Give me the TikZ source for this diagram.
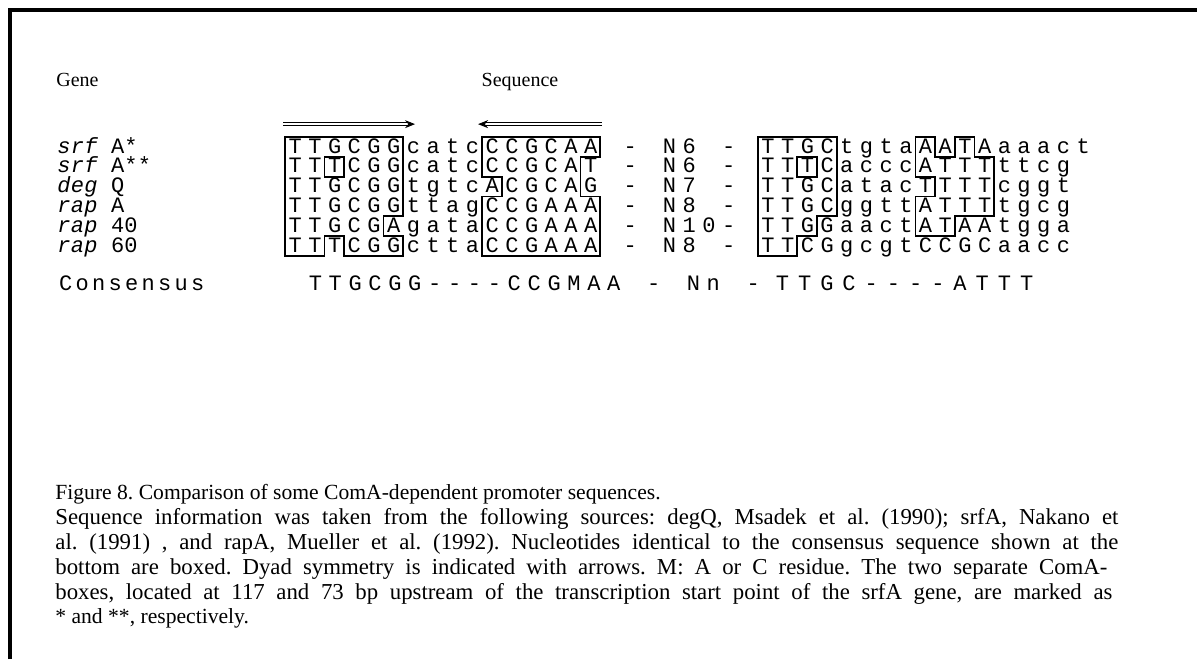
\documentclass[tikz,border=0pt]{standalone}
\usepackage{fontspec}
\setmainfont{Liberation Serif}
\newfontfamily\monofont{Liberation Mono}
\usetikzlibrary{arrows.meta}

% one fixed cell for every letter, so that the boxes fit the columns
\newlength\cellw
\newcommand\cells[1]{\cellsloop#1\relax}
\def\cellsloop#1{\ifx#1\relax\else\makebox[\cellw]{#1}\expandafter\cellsloop\fi}
\newcommand\genename[2]{{\itshape\cells{#1}}\cells{~#2}}
\frenchspacing

\begin{document}
\begin{tikzpicture}[x=0.5pt, y=-0.5pt,
    seq/.style={anchor=base west, inner sep=0pt,
      font={\monofont\fontsize{11}{13}\selectfont\setlength\cellw{9.85pt}}},
    lbl/.style={anchor=base west, inner sep=0pt,
      font={\monofont\fontsize{11}{13}\selectfont\setlength\cellw{6.7pt}}},
    cons/.style={anchor=base west, inner sep=0pt,
      font={\monofont\fontsize{11}{13}\selectfont\setlength\cellw{8.25pt}}},
    head/.style={inner sep=0pt, font=\fontsize{10}{12}\selectfont},
    caption/.style={anchor=base west, inner sep=0pt, font=\fontsize{10.8}{13}\selectfont},
    wide/.style={caption, font=\fontsize{11.4}{13}\selectfont},
    motif/.style={line width=0.9pt, line join=miter},
    dyad/.style={double, double distance=1.2pt, line width=0.45pt}]
  \useasboundingbox (0,0) rectangle (1197,659);
  % frame, left and top only
  \draw[line width=2pt] (10,659) -- (10,10) -- (1197,10);

  \node[head, anchor=base west] (gene) at (56,86) {Gene};
  \node[head, anchor=base] (sequence) at (520,86) {Sequence};

  % gene names
  \node[lbl] (n1) at (57,153)   {\genename{srf}{A*}};
  \node[lbl] (n2) at (57,172.8) {\genename{srf}{A**}};
  \node[lbl] (n3) at (57,192.6) {\genename{deg}{Q}};
  \node[lbl] (n4) at (57,212.4) {\genename{rap}{A}};
  \node[lbl] (n5) at (57,232.2) {\genename{rap}{40}};
  \node[lbl] (n6) at (57,252)   {\genename{rap}{60}};
  \node[cons] (ncons) at (57,290) {\cells{Consensus}};

  % sequences
  \node[seq] (s1) at (285,153)   {\cells{TTGCGGcatcCCGCAA~-~N6~-~TTGCtgtaAATAaaact}};
  \node[seq] (s2) at (285,172.8) {\cells{TTTCGGcatcCCGCAT~-~N6~-~TTTCacccATTTttcg}};
  \node[seq] (s3) at (285,192.6) {\cells{TTGCGGtgtcACGCAG~-~N7~-~TTGCatacTTTTcggt}};
  \node[seq] (s4) at (285,212.4) {\cells{TTGCGGttagCCGAAA~-~N8~-~TTGCggttATTTtgcg}};
  \node[seq] (s5) at (285,232.2) {\cells{TTGCGAgataCCGAAA~-~N10-~TTGGaactATAAtgga}};
  \node[seq] (s6) at (285,252)   {\cells{TTTCGGcttaCCGAAA~-~N8~-~TTCGgcgtCCGCaacc}};
  \node[seq, font={\monofont\fontsize{11}{13}\selectfont\setlength\cellw{9.95pt}}]
    (consa) at (305,290) {\cells{TTGCGG----CCGMAA~-~Nn~-}};
  \node[seq, font={\monofont\fontsize{11}{13}\selectfont\setlength\cellw{11.1pt}}]
    (consb) at (771,290) {\cells{TTGC----ATTT}};

  % boxes round the letters that agree with the consensus
  \begin{scope}[shift={(285,137)}, x=9.85pt, y=-9.9pt]
    \draw[motif] (0,0) -- (6,0) -- (6,4) -- (5,4) -- (5,5) -- (6,5) -- (6,6)
      -- (3,6) -- (3,5) -- (2,5) -- (2,6) -- (0,6) -- cycle;
    \draw[motif] (2,1) rectangle (3,2);
    \draw[motif] (10,0) -- (16,0) -- (16,1) -- (15,1) -- (15,3) -- (16,3)
      -- (16,6) -- (10,6) -- (10,3) -- (11,3) -- (11,2) -- (10,2) -- cycle;
    \draw[motif] (24,0) -- (28,0) -- (28,4) -- (27,4) -- (27,5) -- (26,5)
      -- (26,6) -- (24,6) -- cycle;
    \draw[motif] (26,1) rectangle (27,2);
    \draw[motif] (32,0) -- (33,0) -- (33,1) -- (34,1) -- (34,0) -- (35,0)
      -- (35,1) -- (36,1) -- (36,4) -- (34,4) -- (34,5) -- (32,5) -- (32,3)
      -- (33,3) -- (33,2) -- (32,2) -- cycle;
    % dyad symmetry
    \coordinate (l0) at (-0.1,-0.65); \coordinate (l1) at (6.6,-0.65);
    \coordinate (r0) at (16.1,-0.65); \coordinate (r1) at (9.8,-0.65);
    \draw[dyad, -{Stealth[length=5pt, width=4pt]}] (l0) -- (l1);
    \draw[dyad, -{Stealth[length=5pt, width=4pt]}] (r0) -- (r1);
  \end{scope}

  % caption
  \node[caption] (c1) at (55,499) {Figure 8. Comparison of some ComA-dependent promoter sequences.};
  \node[wide] (c2) at (55,524) {\makebox[531.5pt][s]{Sequence information was taken from the following sources: degQ, Msadek et al. (1990); srfA, Nakano et}};
  \node[wide] (c3) at (55,549) {\makebox[531.5pt][s]{al. (1991) , and rapA, Mueller et al. (1992). Nucleotides identical to the consensus sequence shown at the}};
  \node[wide] (c4) at (55,574) {\makebox[526pt][s]{bottom are boxed. Dyad symmetry is indicated with arrows. M: A or C residue. The two separate ComA-}};
  \node[wide] (c5) at (55,599) {\makebox[528.5pt][s]{boxes, located at 117 and 73 bp upstream of the transcription start point of the srfA gene, are marked as}};
  \node[caption] (c6) at (55,623) {* and **, respectively.};
\end{tikzpicture}
\end{document}
